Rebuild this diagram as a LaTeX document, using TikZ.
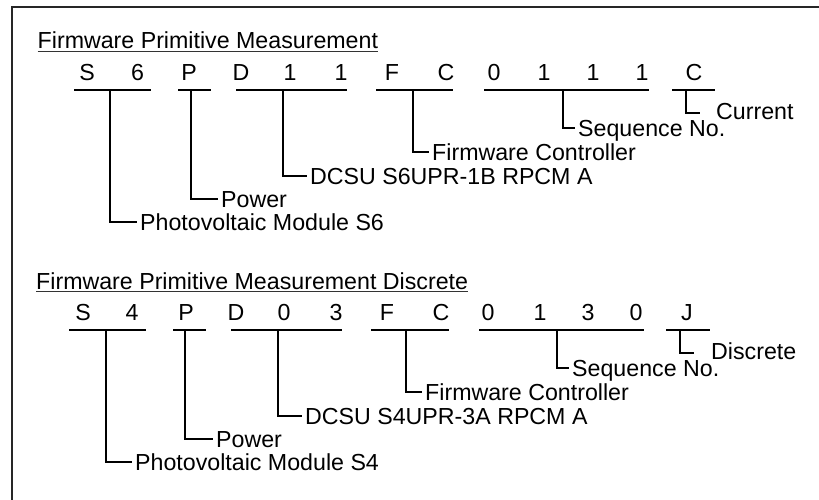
\documentclass[tikz,border=0pt]{standalone}
\usepackage{fontspec}
\newfontfamily\diagfontfam{Liberation Sans}
\newcommand\diagfont{\diagfontfam\fontsize{23.2}{27}\selectfont}
\tikzset{
  frameline/.style={line width=2pt, draw=black!85},
  barline/.style={line width=2pt, draw=black},
  leadline/.style={line width=2pt, draw=black},
  chr/.style={font=\diagfont, inner sep=0pt, text height=16.5pt, text depth=0pt, anchor=center},
  lab/.style={font=\diagfont, anchor=west, inner xsep=3pt, inner ysep=0pt, text height=16.5pt, text depth=0pt},
  ttl/.style={font=\diagfont, anchor=base west, inner sep=0pt},
  uline/.style={line width=1.2pt, draw=black!80}
}
\begin{document}
\begin{tikzpicture}[x=1pt,y=-1pt]
\useasboundingbox (0,0) rectangle (819,500);
% frame (top and left only visible)
\coordinate (fA) at (11.5,500);
\coordinate (fB) at (11.5,7);
\coordinate (fC) at (819,7);
\draw[frameline] (fA) -- (fB) -- (fC);

% ---------- block 1 ----------
\node[ttl] (t1) at (37.5,49) {Firmware Primitive Measurement};
\draw[uline] ([yshift=-2.5pt]t1.base west) -- ([yshift=-2.5pt]t1.base east);
\foreach \i/\x/\c in {1/87/S,2/137.5/6,3/189/P,4/241/D,5/290/1,6/341/1,7/392/F,8/446/C,9/494/0,10/544/1,11/593/1,12/642/1,13/694/C}
  \node[chr] (a\i) at (\x,72.5) {\c};

\foreach \k/\l/\r/\m in {1/74/151/110,2/178/211/191,3/236/347/283,4/376/453/413,5/484/649/563,6/672/715/686}{
  \coordinate (aL\k) at (\l,90);
  \coordinate (aR\k) at (\r,90);
  \coordinate (aM\k) at (\m,90);
  \draw[barline] (aL\k) -- (aR\k);
}
\node[lab] (al1) at (137,222) {Photovoltaic Module S6};
\node[lab] (al2) at (218,199) {Power};
\node[lab] (al3) at (307,176) {DCSU S6UPR-1B RPCM A};
\node[lab] (al4) at (429,152) {Firmware Controller};
\node[lab] (al5) at (575,128) {Sequence No.};
\coordinate (ae6) at (700,113);
\node[lab, inner xsep=0pt] (al6) at (716,111) {Current};
\draw[leadline] (aM1) |- (al1.west);
\draw[leadline] (aM2) |- (al2.west);
\draw[leadline] (aM3) |- (al3.west);
\draw[leadline] (aM4) |- (al4.west);
\draw[leadline] (aM5) |- (al5.west);
\draw[leadline] (aM6) |- (ae6);

% ---------- block 2 ----------
\node[ttl] (t2) at (36,289) {Firmware Primitive Measurement Discrete};
\draw[uline] ([yshift=-2.5pt]t2.base west) -- ([yshift=-2.5pt]t2.base east);
\foreach \i/\x/\c in {1/83/S,2/132/4,3/186/P,4/236/D,5/284/0,6/336/3,7/387/F,8/441/C,9/488/0,10/540/1,11/588/3,12/636/0,13/687/J}
  \node[chr] (b\i) at (\x,312.5) {\c};

\foreach \k/\l/\r/\m in {1/69/146/106,2/173/206/185,3/231/342/278,4/371/449/406,5/479/644/557,6/666/710/680}{
  \coordinate (bL\k) at (\l,330);
  \coordinate (bR\k) at (\r,330);
  \coordinate (bM\k) at (\m,330);
  \draw[barline] (bL\k) -- (bR\k);
}
\node[lab] (bl1) at (132,462) {Photovoltaic Module S4};
\node[lab] (bl2) at (213,439) {Power};
\node[lab] (bl3) at (302,416) {DCSU S4UPR-3A RPCM A};
\node[lab] (bl4) at (422,392) {Firmware Controller};
\node[lab] (bl5) at (569,368) {Sequence No.};
\coordinate (be6) at (694,353);
\node[lab, inner xsep=0pt] (bl6) at (711,351) {Discrete};
\draw[leadline] (bM1) |- (bl1.west);
\draw[leadline] (bM2) |- (bl2.west);
\draw[leadline] (bM3) |- (bl3.west);
\draw[leadline] (bM4) |- (bl4.west);
\draw[leadline] (bM5) |- (bl5.west);
\draw[leadline] (bM6) |- (be6);
\end{tikzpicture}
\end{document}
